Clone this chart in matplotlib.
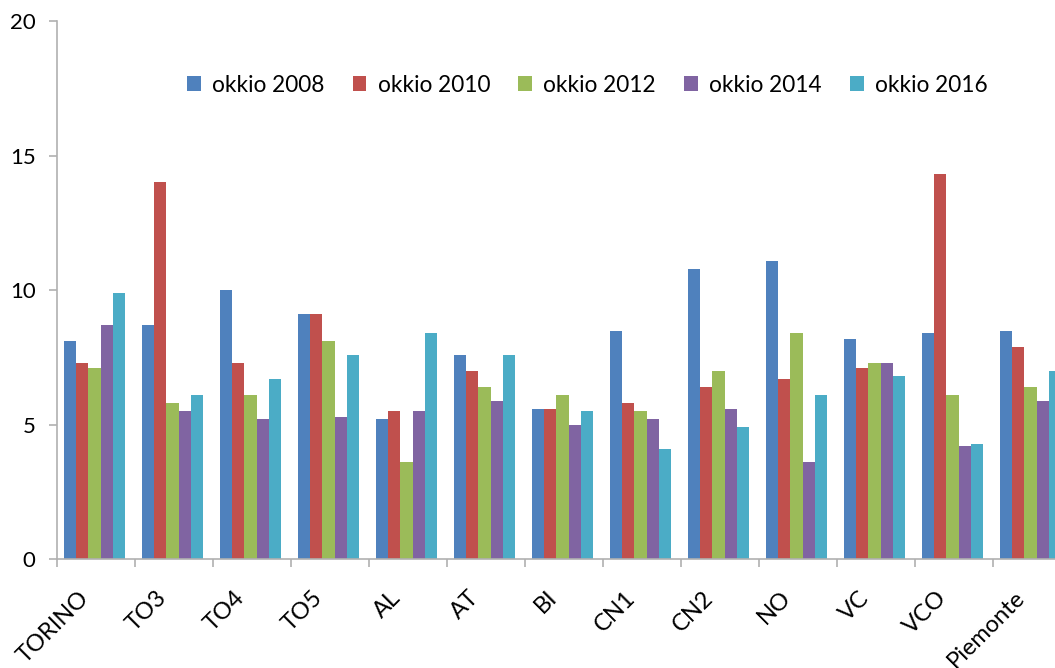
import numpy as np
import matplotlib
matplotlib.use("Agg")
import matplotlib.pyplot as plt

# dati per ASL / anno di rilevazione
categories = ["TORINO", "TO3", "TO4", "TO5", "AL", "AT", "BI", "CN1", "CN2",
              "NO", "VC", "VCO", "Piemonte"]
series_names = ["okkio 2008", "okkio 2010", "okkio 2012", "okkio 2014", "okkio 2016"]
okkio_2008 = [8.1, 8.7, 10.0, 9.1, 5.2, 7.6, 5.6, 8.5, 10.8, 11.1, 8.2, 8.4, 8.5]
okkio_2010 = [7.3, 14.0, 7.3, 9.1, 5.5, 7.0, 5.6, 5.8, 6.4, 6.7, 7.1, 14.3, 7.9]
okkio_2012 = [7.1, 5.8, 6.1, 8.1, 3.6, 6.4, 6.1, 5.5, 7.0, 8.4, 7.3, 6.1, 6.4]
okkio_2014 = [8.7, 5.5, 5.2, 5.3, 5.5, 5.9, 5.0, 5.2, 5.6, 3.6, 7.3, 4.2, 5.9]
okkio_2016 = [9.9, 6.1, 6.7, 7.6, 8.4, 7.6, 5.5, 4.1, 4.9, 6.1, 6.8, 4.3, 7.0]
colors = ["#4F81BD", "#C0504D", "#9BBB59", "#8064A2", "#4BACC6"]

plt.rcParams["font.family"] = ["Lato", "DejaVu Sans"]

fig = plt.figure(figsize=(10.55, 6.68), dpi=100)
ax = fig.add_axes([57 / 1055, 108.7 / 668, 1014 / 1055, 538.3 / 668])

data = [okkio_2008, okkio_2010, okkio_2012, okkio_2014, okkio_2016]
x = np.arange(len(categories))
w = 0.157
for i, (vals, name, c) in enumerate(zip(data, series_names, colors)):
    ax.bar(x + (i - 2) * w - 0.02, vals, width=w, color=c, label=name, linewidth=0)

ax.set_xlim(-0.5, len(categories) - 0.5)
ax.set_ylim(0, 20)
ax.set_yticks([0, 5, 10, 15, 20])
# tacche maggiori ai bordi delle categorie, etichette su tacche minori invisibili
ax.set_xticks(np.arange(len(categories) + 1) - 0.5)
ax.set_xticklabels([])
ax.set_xticks(x - 0.23, minor=True)
ax.set_xticklabels(categories, minor=True, rotation=45, ha="right",
                   rotation_mode="anchor", fontsize=17)
ax.tick_params(axis="x", which="minor", length=0, pad=20)
ax.tick_params(axis="x", which="major", length=5.5, color="#b0b0b0", width=1.2)
ax.tick_params(axis="y", length=5.5, color="#b0b0b0", width=1.2, labelsize=16, pad=10)

for s in ["top", "right"]:
    ax.spines[s].set_visible(False)
for s in ["left", "bottom"]:
    ax.spines[s].set_color("#b0b0b0")
    ax.spines[s].set_linewidth(1.2)

ax.legend(ncol=5, frameon=False, loc="center", bbox_to_anchor=(0.523, (668 - 85 - 108.7) / 538.3),
          handlelength=0.6, handleheight=0.6, handletextpad=0.5, columnspacing=1.25,
          fontsize=16.3)

fig.savefig("out.png", dpi=100)
